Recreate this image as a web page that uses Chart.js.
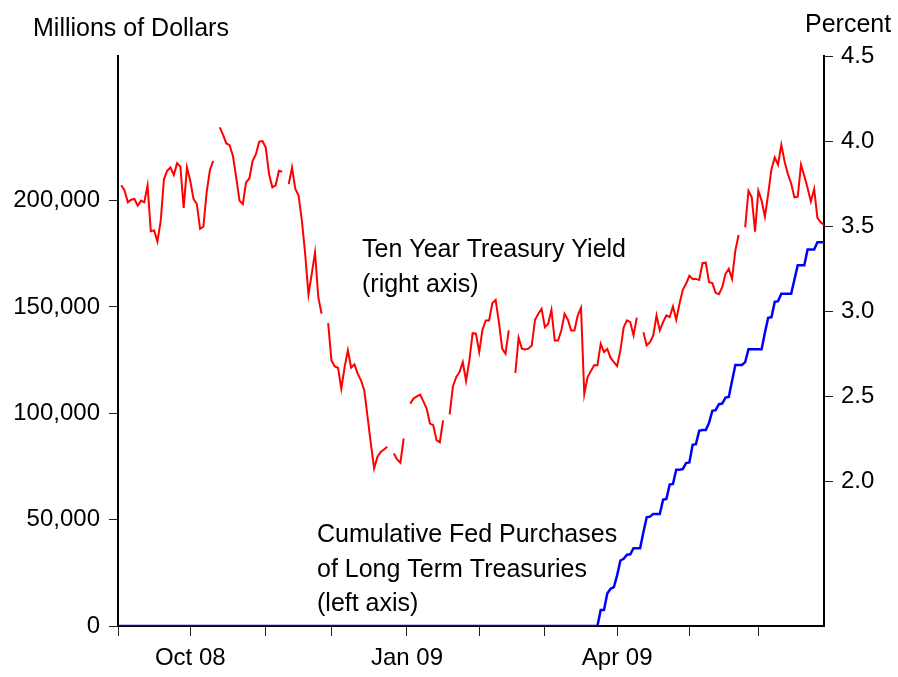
<!DOCTYPE html>
<html>
<head>
<meta charset="utf-8">
<title>Ten Year Treasury Yield and Fed Purchases</title>
<script src="https://cdn.jsdelivr.net/npm/chart.js@4.4.1/dist/chart.umd.min.js"></script>
<style>
  html, body { margin: 0; padding: 0; background: #fff; }
  #chart { display: block; }
</style>
</head>
<body>
<canvas id="chart" width="898" height="677"></canvas>
<script>
// business-day observations, obs 0 = Mon Sep 1 2008 ... obs 215 = Jun 29 2009
const monthLabels = ['Sep 08', 'Oct 08', 'Nov 08', 'Dec 08', 'Jan 09', 'Feb 09', 'Mar 09', 'Apr 09', 'May 09', 'Jun 09'];
const monthStartObs = [0, 22, 45, 65, 88, 110, 130, 152, 174, 195];
const labeledMonths = ['Oct 08', 'Jan 09', 'Apr 09'];
const lastObs = 215;

// ten year yield, percent (null = market holiday, line breaks there)
const tenYearYield = [
  null, 3.74, 3.71, 3.64, 3.655, 3.66, 3.62, 3.65, 3.64, 3.74,
  3.47, 3.475, 3.41, 3.53, 3.777, 3.826, 3.845, 3.80, 3.87, 3.85,
  3.607, 3.845, 3.767, 3.66, 3.63, 3.484, 3.497, 3.70, 3.83, 3.884,
  null, 4.08, 4.037, 3.986, 3.976, 3.913, 3.786, 3.65, 3.63, 3.757,
  3.78, 3.884, 3.923, 3.997, 4.00, 3.962, 3.806, 3.728, 3.74, 3.826,
  3.82, null, 3.748, 3.845, 3.718, 3.68, 3.532, 3.337, 3.098, 3.22,
  3.346, 3.082, 2.985, null, 2.93, 2.711, 2.676, 2.668, 2.545, 2.67,
  2.77, 2.668, 2.688, 2.633, 2.594, 2.535, 2.379, 2.222, 2.076, 2.144,
  2.173, 2.187, 2.203, null, 2.164, 2.129, 2.109, 2.252, null, 2.457,
  2.487, 2.50, 2.51, 2.47, 2.428, 2.34, 2.33, 2.242, 2.23, 2.359,
  null, 2.394, 2.559, 2.613, 2.643, 2.701, 2.59, 2.711, 2.871, 2.868,
  2.76, 2.891, 2.946, 2.946, 3.047, 3.067, 2.936, 2.78, 2.75, 2.887,
  null, 2.637, 2.844, 2.78, 2.775, 2.78, 2.799, 2.95, 2.985, 3.014,
  2.906, 2.926, 3.008, 2.828, 2.828, 2.887, 2.985, 2.95, 2.887, 2.887,
  2.975, 3.02, 2.512, 2.613, 2.648, 2.682, 2.682, 2.809, 2.76, 2.778,
  2.727, 2.701, 2.678, 2.77, 2.906, 2.946, 2.936, 2.858, 2.962, null,
  2.877, 2.799, 2.818, 2.858, 2.975, 2.887, 2.936, 2.975, 2.965, 3.028,
  2.95, 3.044, 3.126, 3.161, 3.208, 3.19, 3.19, 3.184, 3.282, 3.285,
  3.17, 3.165, 3.108, 3.10, 3.141, 3.22, 3.249, 3.19, 3.356, 3.448,
  null, 3.493, 3.708, 3.669, 3.468, 3.708, 3.65, 3.556, 3.689, 3.835,
  3.904, 3.861, 3.978, 3.88, 3.806, 3.751, 3.669, 3.673, 3.861, 3.796,
  3.724, 3.645, 3.718, 3.548, 3.522, 3.507
];

// cumulative fed purchases of long term treasuries, millions of dollars
// zero from obs 0 until fedStartObs
const fedStartObs = 146;
const fedPurchases = [
  0, 7500, 7500, 15300, 17500, 18300, 23800, 30800, 31600, 33500,
  33700, 36600, 36600, 36600, 44100, 51100, 51400, 52700, 52700, 52700,
  59400, 59700, 66500, 66800, 73500, 73500, 73800, 76600, 76900, 85200,
  85500, 91800, 92100, 92100, 95500, 101200, 101500, 104300, 104600, 107400,
  107700, 115200, 122700, 122700, 122700, 124100, 130100, 130100, 130100, 130100,
  130100, 137900, 144900, 145200, 152400, 152700, 156200, 156200, 156200, 156200,
  162900, 169600, 169600, 169600, 177000, 177000, 177000, 180400, 180400, 180400
];

const leftTicks = [0, 50000, 100000, 150000, 200000];
const rightTicks = [2.0, 2.5, 3.0, 3.5, 4.0, 4.5];
const leftMax = 268000;
const rightMin = 1.15;
const rightMax = 4.5;

const yieldNote = ['Ten Year Treasury Yield', '(right axis)'];
const fedNote = ['Cumulative Fed Purchases', 'of Long Term Treasuries', '(left axis)'];

// build points
const yieldPoints = tenYearYield.map((v, i) => ({ x: i, y: v }));
const fedPoints = [{ x: 0, y: 0 }].concat(
  fedPurchases.map((v, k) => ({ x: fedStartObs + k, y: v }))
);

const FONT = "'Liberation Sans', Arial, sans-serif";
Chart.defaults.font.family = FONT;
Chart.defaults.font.size = 24;
Chart.defaults.color = '#000';

// titles and the text notes inside the plot
const notesPlugin = {
  id: 'notes',
  afterDraw(chart) {
    const ctx = chart.ctx;
    ctx.save();
    ctx.fillStyle = '#000';
    ctx.textBaseline = 'alphabetic';
    ctx.textAlign = 'left';
    ctx.font = '25px ' + FONT;
    ctx.fillText('Millions of Dollars', 33, 36);
    ctx.fillText('Percent', 805, 32);
    yieldNote.forEach((t, k) => ctx.fillText(t, 362, 257 + k * 34.5));
    fedNote.forEach((t, k) => ctx.fillText(t, 317, 542 + k * 34.5));
    ctx.restore();
  }
};

const axisGrid = { drawOnChartArea: false, drawTicks: true, tickLength: 9, color: '#222', lineWidth: 1 };
const axisBorder = { display: true, color: '#000', width: 2 };

new Chart(document.getElementById('chart'), {
  type: 'line',
  data: {
    datasets: [
      {
        label: 'Ten Year Treasury Yield',
        data: yieldPoints,
        yAxisID: 'yRight',
        borderColor: 'rgb(255, 0, 0)',
        borderWidth: 2,
        pointRadius: 0,
        tension: 0,
        spanGaps: false
      },
      {
        label: 'Cumulative Fed Purchases',
        data: fedPoints,
        yAxisID: 'yLeft',
        borderColor: 'rgb(0, 0, 255)',
        borderWidth: 2.5,
        pointRadius: 0,
        tension: 0
      }
    ]
  },
  options: {
    responsive: false,
    animation: false,
    devicePixelRatio: 1,
    layout: { padding: { top: 56, left: 0, right: 0, bottom: 0 } },
    plugins: { legend: { display: false }, tooltip: { enabled: false } },
    scales: {
      x: {
        type: 'linear',
        position: 'bottom',
        min: 0,
        max: lastObs,
        afterBuildTicks: s => { s.ticks = monthStartObs.map(v => ({ value: v })); },
        afterFit: s => { s.height = 51; },
        ticks: {
          autoSkip: false,
          maxRotation: 0,
          padding: 8,
          callback: v => {
            const lab = monthLabels[monthStartObs.indexOf(v)];
            return labeledMonths.includes(lab) ? lab : '';
          }
        },
        grid: Object.assign({}, axisGrid, { tickLength: 10 }),
        border: axisBorder
      },
      yLeft: {
        type: 'linear',
        position: 'left',
        min: 0,
        max: leftMax,
        afterBuildTicks: s => { s.ticks = leftTicks.map(v => ({ value: v })); },
        afterFit: s => { s.width = 118; },
        ticks: {
          padding: 9,
          callback: v => v.toLocaleString('en-US')
        },
        grid: axisGrid,
        border: axisBorder
      },
      yRight: {
        type: 'linear',
        position: 'right',
        min: rightMin,
        max: rightMax,
        afterBuildTicks: s => { s.ticks = rightTicks.map(v => ({ value: v })); },
        afterFit: s => { s.width = 74; },
        ticks: {
          padding: 8,
          callback: v => v.toFixed(1)
        },
        grid: axisGrid,
        border: axisBorder
      }
    }
  },
  plugins: [notesPlugin]
});
</script>
</body>
</html>
